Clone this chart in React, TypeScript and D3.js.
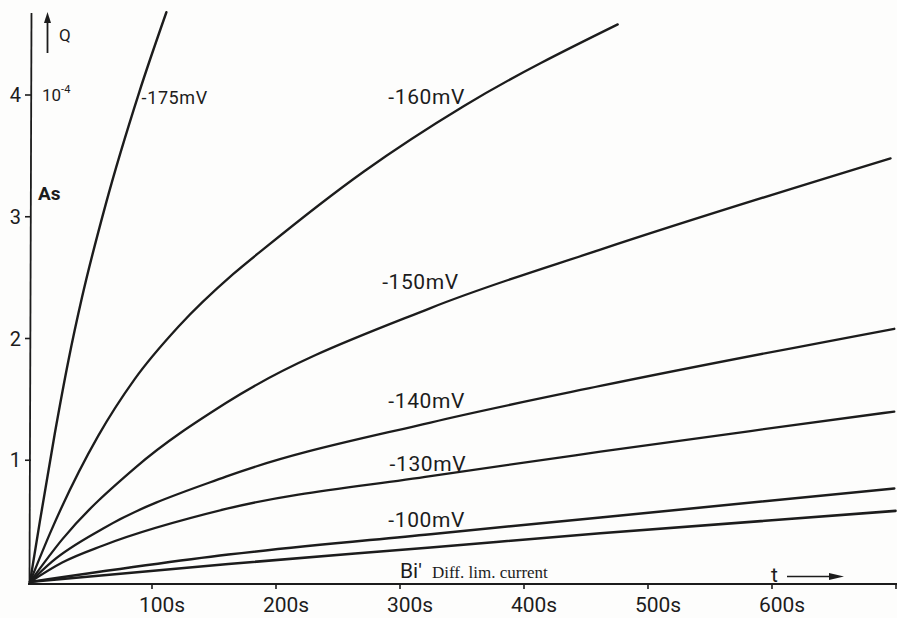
import React from "react";
import * as d3 from "d3";

// ---- data ----
const xTicks = [100, 200, 300, 400, 500, 600, 700];
const xTickLabels = ["100s", "200s", "300s", "400s", "500s", "600s", ""];
const yTicks = [1, 2, 3, 4];
const yTickLabels = ["1", "2", "3", "4"];

const seriesNames = ["-175mV", "-160mV", "-150mV", "-140mV", "-130mV", "-100mV", "Bi'"];

const t175 = [0, 8, 20, 31, 42, 61, 88, 110];
const q175 = [0, 0.5, 1.22, 1.82, 2.34, 3.1, 4.02, 4.68];

const t160 = [0, 17, 55, 84, 120, 164, 189, 269, 350, 474];
const q160 = [0, 0.42, 1.2, 1.66, 2.1, 2.53, 2.74, 3.37, 3.91, 4.58];

const t150 = [0, 26, 85, 158, 323, 460, 694];
const q150 = [0, 0.35, 0.94, 1.47, 2.25, 2.73, 3.48];

const t140 = [0, 18, 59, 158, 323, 460, 697];
const q140 = [0, 0.17, 0.44, 0.865, 1.31, 1.61, 2.08];

const t130 = [0, 26, 59, 158, 323, 460, 581, 697];
const q130 = [0, 0.16, 0.3, 0.6, 0.87, 1.07, 1.24, 1.4];

const t100 = [0, 160, 323, 460, 697];
const q100 = [0, 0.225, 0.393, 0.53, 0.768];

const tBi = [0, 160, 323, 460, 698];
const qBi = [0, 0.148, 0.284, 0.4, 0.584];

const W = 897;
const H = 618;

export default function App() {
  const x = d3.scaleLinear().domain([0, 700]).range([30, 898]);
  const y = d3.scaleLinear().domain([0, 4]).range([582, 95]);

  const line = d3
    .line<[number, number]>()
    .x((d) => x(d[0]))
    .y((d) => y(d[1]))
    .curve(d3.curveMonotoneX);

  const series = [
    { t: t175, q: q175, w: 2.4 },
    { t: t160, q: q160, w: 2.3 },
    { t: t150, q: q150, w: 2.3 },
    { t: t140, q: q140, w: 2.3 },
    { t: t130, q: q130, w: 2.3 },
    { t: t100, q: q100, w: 2.5 },
    { t: tBi, q: qBi, w: 2.6 },
  ];

  // label anchors in data units (t, Q)
  const labelPos: [number, number, number][] = [
    [90, 3.93, 18],
    [289, 3.93, 21],
    [284, 2.41, 21],
    [289, 1.43, 21],
    [290, 0.91, 21],
    [289, 0.45, 21],
  ];

  const ink = "#1c1c1c";
  const font = "Roboto, 'DejaVu Sans', sans-serif";
  const y0 = 584;

  return (
    <svg
      width={W}
      height={H}
      viewBox={`0 0 ${W} ${H}`}
      style={{ position: "absolute", left: 0, top: 0, background: "#fdfdfc" }}
    >
      <rect x={0} y={0} width={W} height={H} fill="#fdfdfc" />
      {/* axes */}
      <line x1={29.5} y1={y0} x2={31.5} y2={13} stroke={ink} strokeWidth={1.8} />
      <line x1={28} y1={y0} x2={897} y2={y0} stroke={ink} strokeWidth={1.8} />

      {yTicks.map((v, i) => (
        <g key={"yt" + v}>
          <line x1={25} x2={31} y1={y(v)} y2={y(v)} stroke={ink} strokeWidth={1.6} />
          <text
            x={21}
            y={y(v) + 7}
            textAnchor="end"
            fontFamily={font}
            fontSize={20}
            fill={ink}
          >
            {yTickLabels[i]}
          </text>
        </g>
      ))}

      {xTicks.map((v, i) => (
        <g key={"xt" + v}>
          <line x1={x(v) - 2} x2={x(v) - 2} y1={y0} y2={y0 + 5} stroke={ink} strokeWidth={1.6} />
          <text
            x={x(v) + 8}
            y={612}
            textAnchor="middle"
            fontFamily={font}
            fontSize={21}
            fill={ink}
          >
            {xTickLabels[i]}
          </text>
        </g>
      ))}

      {/* Q axis title */}
      <line x1={47.5} y1={53} x2={47.5} y2={20} stroke={ink} strokeWidth={1.8} />
      <path d="M47.5,12 L44,23 L51,23 Z" fill={ink} />
      <text x={59} y={41} fontFamily={font} fontSize={17} fill={ink}>
        Q
      </text>
      <text x={42} y={101} fontFamily={font} fontSize={17} fill={ink}>
        10
        <tspan fontSize={11} dy={-8}>
          -4
        </tspan>
      </text>
      <text x={38} y={200} fontFamily={font} fontSize={19} fontWeight="bold" fill={ink}>
        As
      </text>

      {/* t axis title */}
      <text x={771} y={582} fontFamily={font} fontSize={21} fill={ink}>
        t
      </text>
      <line x1={787} y1={576.5} x2={832} y2={576.5} stroke={ink} strokeWidth={1.6} />
      <path d="M844,576.5 L829,573 L829,580 Z" fill={ink} />

      {/* curves */}
      {series.map((s, i) => (
        <path
          key={seriesNames[i]}
          d={line(s.t.map((t, j) => [t, s.q[j]] as [number, number])) || ""}
          fill="none"
          stroke={ink}
          strokeWidth={s.w}
          strokeLinecap="round"
          strokeLinejoin="round"
        />
      ))}

      {/* curve labels */}
      {labelPos.map((p, i) => (
        <text
          key={"lbl" + i}
          x={x(p[0])}
          y={y(p[1])}
          fontFamily={font}
          fontSize={p[2]}
          letterSpacing={0.6}
          fill={ink}
        >
          {seriesNames[i]}
        </text>
      ))}

      <text x={400} y={578} fontFamily={font} fontSize={21} fill={ink}>
        {seriesNames[6]}
      </text>
      <text x={432} y={578} fontFamily="'Liberation Serif', 'DejaVu Serif', serif" fontSize={17} fill={ink}>
        Diff. lim. current
      </text>
    </svg>
  );
}
